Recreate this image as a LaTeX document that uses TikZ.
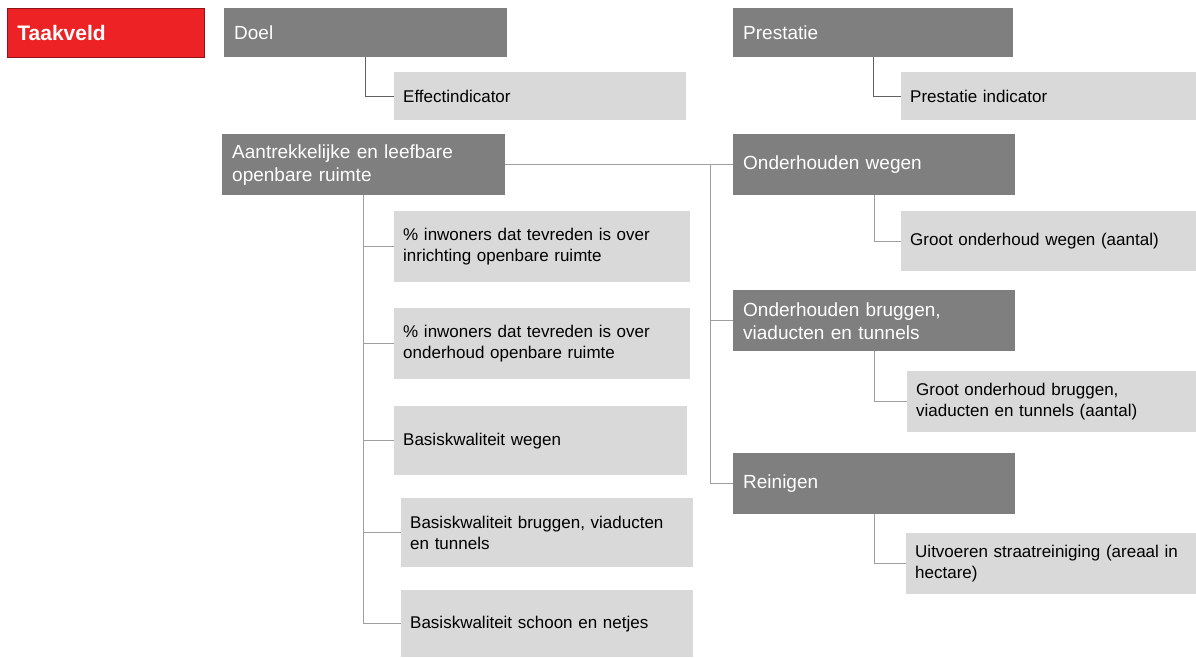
\documentclass[tikz,border=0pt]{standalone}
\usepackage{fontspec}
\setmainfont{Liberation Sans}
\usepackage{xcolor}
\definecolor{taakred}{RGB}{237,34,36}
\definecolor{doelgray}{RGB}{127,127,127}
\definecolor{indgray}{RGB}{217,217,217}
\usepackage{tikz}
\usetikzlibrary{positioning,calc}

\begin{document}
\begin{tikzpicture}[x=1pt,y=-1pt,
	redbox/.style={rectangle,anchor=north west,fill=taakred,draw=taakred!60!black,line width=0.8pt,text=white,font=\bfseries\fontsize{21}{25}\selectfont,inner xsep=10pt,inner ysep=0pt,align=left},
	darkbox/.style={rectangle,anchor=north west,fill=doelgray,text=white,font=\fontsize{19}{23}\selectfont,inner xsep=10pt,inner ysep=0pt,align=left},
	lightbox/.style={rectangle,anchor=north west,fill=indgray,text=black,font=\fontsize{17}{21}\selectfont,inner xsep=9pt,inner ysep=0pt,align=left},
	topline/.style={draw=black!62,line width=1.4pt},
	subline/.style={draw=black!38,line width=1pt}]
	% fix the page
	\useasboundingbox (0,0) rectangle (1196,657);
	
	% draw header
	\node[redbox,text width=177pt,minimum height=49pt] (taak) at (7,8) {Taakveld};
	\node[darkbox,text width=263pt,minimum height=49pt] (doel) at (224,8) {Doel};
	\node[lightbox,text width=274pt,minimum height=48pt] (effind) at (394,72) {Effectindicator};
	\node[darkbox,text width=260pt,minimum height=49pt] (prest) at (733,8) {Prestatie};
	\node[lightbox,text width=277pt,minimum height=48pt] (prestind) at (901,72) {Prestatie indicator};
	
	% draw goal and indicators
	\node[darkbox,text width=263pt,minimum height=61pt] (aantr) at (222,134) {Aantrekkelijke en leefbare\\openbare ruimte};
	\node[lightbox,text width=278pt,minimum height=71pt] (ind1) at (394,211) {\% inwoners dat tevreden is over\\inrichting openbare ruimte};
	\node[lightbox,text width=278pt,minimum height=71pt] (ind2) at (394,308) {\% inwoners dat tevreden is over\\onderhoud openbare ruimte};
	\node[lightbox,text width=275pt,minimum height=69pt] (ind3) at (394,406) {Basiskwaliteit wegen};
	\node[lightbox,text width=274pt,minimum height=69pt] (ind4) at (401,498) {Basiskwaliteit bruggen, viaducten\\en tunnels};
	\node[lightbox,text width=274pt,minimum height=67pt] (ind5) at (401,590) {Basiskwaliteit schoon en netjes};
	
	% draw performances
	\node[darkbox,text width=262pt,minimum height=61pt] (wegen) at (733,134) {Onderhouden wegen};
	\node[lightbox,text width=277pt,minimum height=60pt] (grwegen) at (901,211) {Groot onderhoud wegen (aantal)};
	\node[darkbox,text width=262pt,minimum height=61pt] (bruggen) at (733,290) {Onderhouden bruggen,\\viaducten en tunnels};
	\node[lightbox,text width=271pt,minimum height=61pt] (grbruggen) at (907,371) {Groot onderhoud bruggen,\\viaducten en tunnels (aantal)};
	\node[darkbox,text width=262pt,minimum height=61pt] (rein) at (733,453) {Reinigen};
	\node[lightbox,text width=272pt,minimum height=61pt] (straat) at (906,533) {Uitvoeren straatreiniging (areaal in\\hectare)};
	
	% connectors
	\draw[topline] (doel.south) |- (effind.west);
	\draw[topline] (prest.south) |- (prestind.west);
	\foreach \i in {1,...,5}
	\draw[subline] (aantr.south) |- (ind\i.west);
	\draw[subline] (aantr.east) -- (wegen.west);
	\coordinate (split) at (710,164.5);
	\draw[subline] (split) |- (bruggen.west);
	\draw[subline] (split) |- (rein.west);
	\draw[subline] (wegen.south) |- (grwegen.west);
	\draw[subline] (bruggen.south) |- (grbruggen.west);
	\draw[subline] (rein.south) |- (straat.west);
	
\end{tikzpicture}
\end{document}
